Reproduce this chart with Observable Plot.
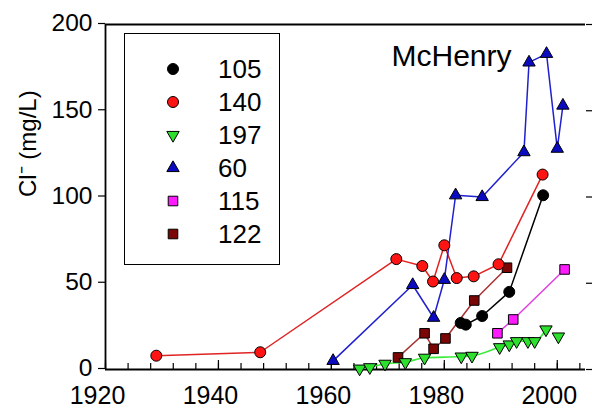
<!DOCTYPE html>
<html><head><meta charset="utf-8">
<script src="https://cdn.jsdelivr.net/npm/d3@7"></script>
<script src="https://cdn.jsdelivr.net/npm/@observablehq/plot@0.6"></script>
<style>
body{margin:0;background:#fff;}
#wrap{position:relative;width:592px;height:409px;font-family:Arial,"Liberation Sans",sans-serif;color:#000;}
#legend{position:absolute;left:124px;top:33px;width:156px;height:232px;border:1.5px solid #000;background:#fff;padding-top:18px;box-sizing:border-box;}
.row{display:flex;align-items:center;height:33px;}
.row svg{margin-left:40px;width:16px;height:16px;}
.row span{margin-left:37px;font-size:26px;line-height:26px;}
</style></head><body><div id="wrap"></div>
<script>
// Series 105
const years105 = [1982.9, 1983.8, 1986.7, 1991.5, 1997.5];
const cl105    = [27, 26, 31, 45, 101];
// Series 140
const years140 = [1929, 1947.4, 1971.5, 1976.1, 1978, 1980, 1982.2, 1985.2, 1989.6, 1997.4];
const cl140    = [8, 10, 64, 60, 51, 72, 53, 54, 61, 113];
// Series 197
const years197 = [1965, 1966.8, 1969.5, 1973.1, 1976.5, 1983, 1984.9, 1989.8, 1991.5, 1992.8, 1994.8, 1996, 1998, 2000.2];
const cl197    = [0.5, 1.3, 3.3, 4.2, 6.8, 7.5, 7.9, 12.9, 14.5, 16.4, 16.4, 16.4, 23.2, 19.1];
// Series 60
const years60  = [1960.3, 1974.4, 1978.1, 1980, 1982, 1986.7, 1994.1, 1995, 1998.1, 2000, 2001];
const cl60     = [5, 49, 30, 52, 101, 100, 126, 178, 183, 128, 153];
// Series 115
const years115 = [1989.4, 1992.2, 2001.3];
const cl115    = [21, 29, 58];
// Series 122
const years122 = [1971.8, 1976.5, 1978.1, 1980.2, 1985.3, 1991.1];
const cl122    = [7, 21, 12, 18, 40, 59];

const seriesNames = ["105", "140", "197", "60", "115", "122"];
const xTickLabels = [1920, 1940, 1960, 1980, 2000];
const xMinorTicks = [1920,1924,1928,1932,1936,1940,1944,1948,1952,1956,1960,1964,1968,1972,1976,1980,1984,1988,1992,1996,2000,2004];
const yTicks = [0, 50, 100, 150, 200];

const triangleDown = {
  draw(context, size) {
    const y = -Math.sqrt(size / (Math.sqrt(3) * 3));
    context.moveTo(0, -y * 2);
    context.lineTo(Math.sqrt(3) * y, y);
    context.lineTo(-Math.sqrt(3) * y, y);
    context.closePath();
  }
};

const style = {
  "105": {line: "#000000", fill: "#000000", symbol: "circle", r: 5.5},
  "140": {line: "#e02424", fill: "#ff1414", symbol: "circle", r: 5.5},
  "197": {line: "#3cec3c", fill: "#2ee02e", symbol: triangleDown, r: 4.6},
  "60":  {line: "#2020d0", fill: "#0a0ac0", symbol: "triangle", r: 4.6},
  "115": {line: "#e040e0", fill: "#ff1aff", symbol: "square", r: 5.4},
  "122": {line: "#a83232", fill: "#7a0606", symbol: "square", r: 5.4}
};

const rows = (ys, vs) => ys.map((y, i) => ({year: y, cl: vs[i]}));
const data = {
  "105": rows(years105, cl105),
  "140": rows(years140, cl140),
  "197": rows(years197, cl197),
  "60":  rows(years60, cl60),
  "115": rows(years115, cl115),
  "122": rows(years122, cl122)
};

const lineMarks = seriesNames.map(n => {
  if (n === "197") {
    return Plot.line(data[n].slice(0, 13), {x: "year", y: "cl", stroke: style[n].line, strokeWidth: 1.6, curve: "monotone-x"});
  }
  return Plot.line(data[n], {x: "year", y: "cl", stroke: style[n].line, strokeWidth: 1.5});
});
const dotOrder = ["122", "115", "60", "140", "105", "197"];
const dotMarks = dotOrder.map(n => Plot.dot(data[n], {
  x: "year", y: "cl", r: style[n].r, symbol: style[n].symbol,
  fill: style[n].fill, stroke: "#000", strokeWidth: 1
}));

const chart = Plot.plot({
  width: 592, height: 409,
  marginLeft: 105, marginRight: 7, marginTop: 24, marginBottom: 40,
  style: {fontFamily: "Arial, 'Liberation Sans', sans-serif", color: "#000", background: "#fff", overflow: "visible"},
  x: {domain: [1920, 2005], label: null},
  y: {domain: [0, 200], label: null},
  marks: [
    Plot.axisX(xMinorTicks, {tickSize: -6, tickFormat: () => "", strokeWidth: 1.2, label: null}),
    Plot.axisX(xTickLabels, {tickSize: -9, tickFormat: () => "", strokeWidth: 1.2, label: null}),
    Plot.axisX(xTickLabels, {tickSize: 0, tickPadding: 17, tickFormat: "d", fontSize: 25, dx: -8, label: null}),
    Plot.axisY(yTicks, {tickSize: 7, tickPadding: 6, fontSize: 24.5, dy: -1, strokeWidth: 1.2, label: null}),
    Plot.axisY(yTicks, {anchor: "right", tickSize: 6, tickFormat: () => "", strokeWidth: 1.2, label: null}),
    Plot.ruleY([0], {strokeWidth: 1.8}),
    Plot.ruleY([200], {strokeWidth: 1.8}),
    Plot.ruleX([1920], {strokeWidth: 1.8}),
    ...lineMarks,
    ...dotMarks,
    Plot.text(["McHenry"], {frameAnchor: "top-left", dx: 286, dy: 20, fontSize: 30, fill: "#000"}),
    Plot.text(["Cl\u207B (mg/L)"], {frameAnchor: "left", rotate: -90, dx: -77, fontSize: 24, fill: "#000"})
  ]
});

const wrap = document.getElementById("wrap");
wrap.appendChild(chart);

const legend = document.createElement("div");
legend.id = "legend";
for (const n of seriesNames) {
  const row = document.createElement("div");
  row.className = "row";
  const s = style[n];
  const sym = typeof s.symbol === "string"
    ? {circle: d3.symbolCircle, triangle: d3.symbolTriangle, square: d3.symbolSquare}[s.symbol]
    : s.symbol;
  const svg = d3.create("svg").attr("viewBox", "-8 -8 16 16");
  svg.append("path")
    .attr("d", d3.symbol(sym, Math.PI * s.r * s.r)())
    .attr("fill", s.fill).attr("stroke", "#000").attr("stroke-width", 1);
  row.appendChild(svg.node());
  const label = document.createElement("span");
  label.textContent = n;
  row.appendChild(label);
  legend.appendChild(row);
}
wrap.appendChild(legend);
</script>
</body></html>
